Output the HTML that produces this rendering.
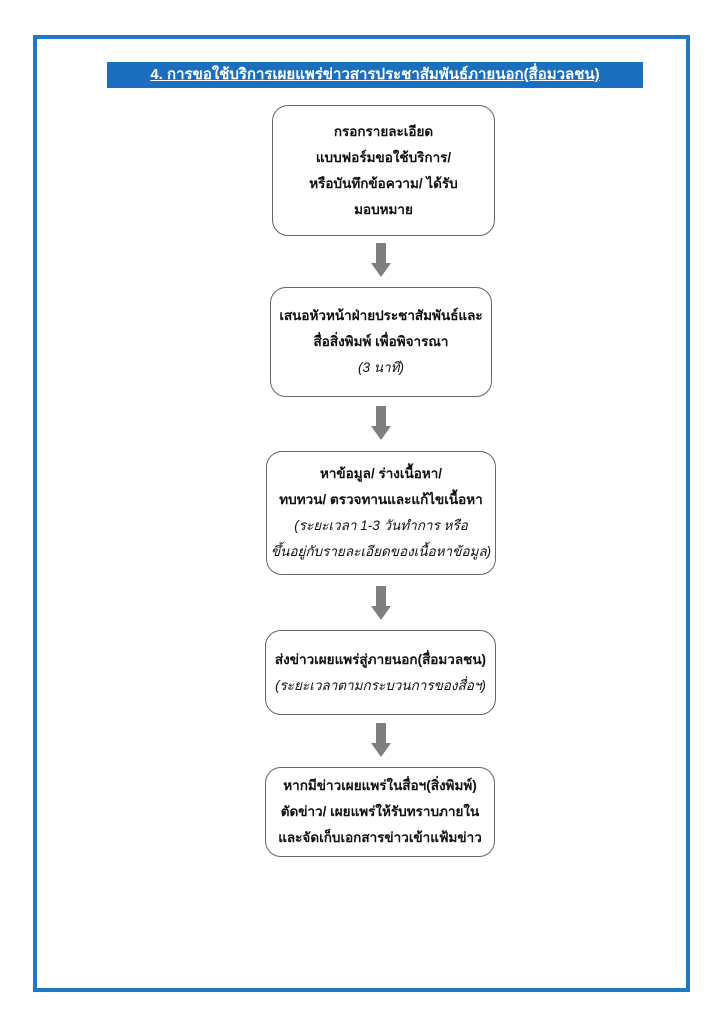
<!DOCTYPE html>
<html><head><meta charset="utf-8"><style>
body{margin:0;width:724px;height:1024px;background:#fff;position:relative;font-family:"Liberation Sans","DejaVu Sans","Noto Sans CJK SC",sans-serif;overflow:hidden}
.frame{position:absolute;left:33px;top:35px;width:649px;height:949px;border:4px solid #1f78c8}
.title{position:absolute;left:107px;top:62px;width:536px;height:26px;background:#1a70bf;color:#fff;font-weight:bold;font-size:15px;text-align:center;line-height:26px;text-decoration:underline}
.box{position:absolute;border:1.5px solid #666;border-radius:16px;box-sizing:border-box;text-align:center;font-weight:bold;font-size:13.5px;color:#111;display:flex;flex-direction:column;justify-content:center;line-height:26px}
.box i{font-weight:normal}
.arr{position:absolute;width:20px;height:34px}
</style></head><body>
<div class="frame"></div>
<div class="title">4. การขอใช้บริการเผยแพร่ข่าวสารประชาสัมพันธ์ภายนอก(สื่อมวลชน)</div>
<div class="box" style="left:272px;top:105px;width:223px;height:131px">กรอกรายละเอียด<br>แบบฟอร์มขอใช้บริการ/<br>หรือบันทึกข้อความ/ ได้รับ<br>มอบหมาย</div>
<div class="box" style="left:270px;top:287px;width:222px;height:110px">เสนอหัวหน้าฝ่ายประชาสัมพันธ์และ<br>สื่อสิ่งพิมพ์ เพื่อพิจารณา<br><i>(3 นาที)</i></div>
<div class="box" style="left:266px;top:451px;width:230px;height:124px">หาข้อมูล/ ร่างเนื้อหา/<br>ทบทวน/ ตรวจทานและแก้ไขเนื้อหา<br><i>(ระยะเวลา 1-3 วันทำการ หรือ<br>ขึ้นอยู่กับรายละเอียดของเนื้อหาข้อมูล)</i></div>
<div class="box" style="left:265px;top:630px;width:231px;height:85px">ส่งข่าวเผยแพร่สู่ภายนอก(สื่อมวลชน)<br><i>(ระยะเวลาตามกระบวนการของสื่อฯ)</i></div>
<div class="box" style="left:265px;top:767px;width:230px;height:90px">หากมีข่าวเผยแพร่ในสื่อฯ(สิ่งพิมพ์)<br>ตัดข่าว/ เผยแพร่ให้รับทราบภายใน<br>และจัดเก็บเอกสารข่าวเข้าแฟ้มข่าว</div>
<svg class="arr" style="left:371px;top:243px" viewBox="0 0 20 34"><polygon points="5,0 15,0 15,20 20,20 10,34 0,20 5,20" fill="#7f7f7f"/></svg>
<svg class="arr" style="left:371px;top:406px" viewBox="0 0 20 34"><polygon points="5,0 15,0 15,20 20,20 10,34 0,20 5,20" fill="#7f7f7f"/></svg>
<svg class="arr" style="left:371px;top:586px" viewBox="0 0 20 34"><polygon points="5,0 15,0 15,20 20,20 10,34 0,20 5,20" fill="#7f7f7f"/></svg>
<svg class="arr" style="left:371px;top:723px" viewBox="0 0 20 34"><polygon points="5,0 15,0 15,20 20,20 10,34 0,20 5,20" fill="#7f7f7f"/></svg>
</body></html>
